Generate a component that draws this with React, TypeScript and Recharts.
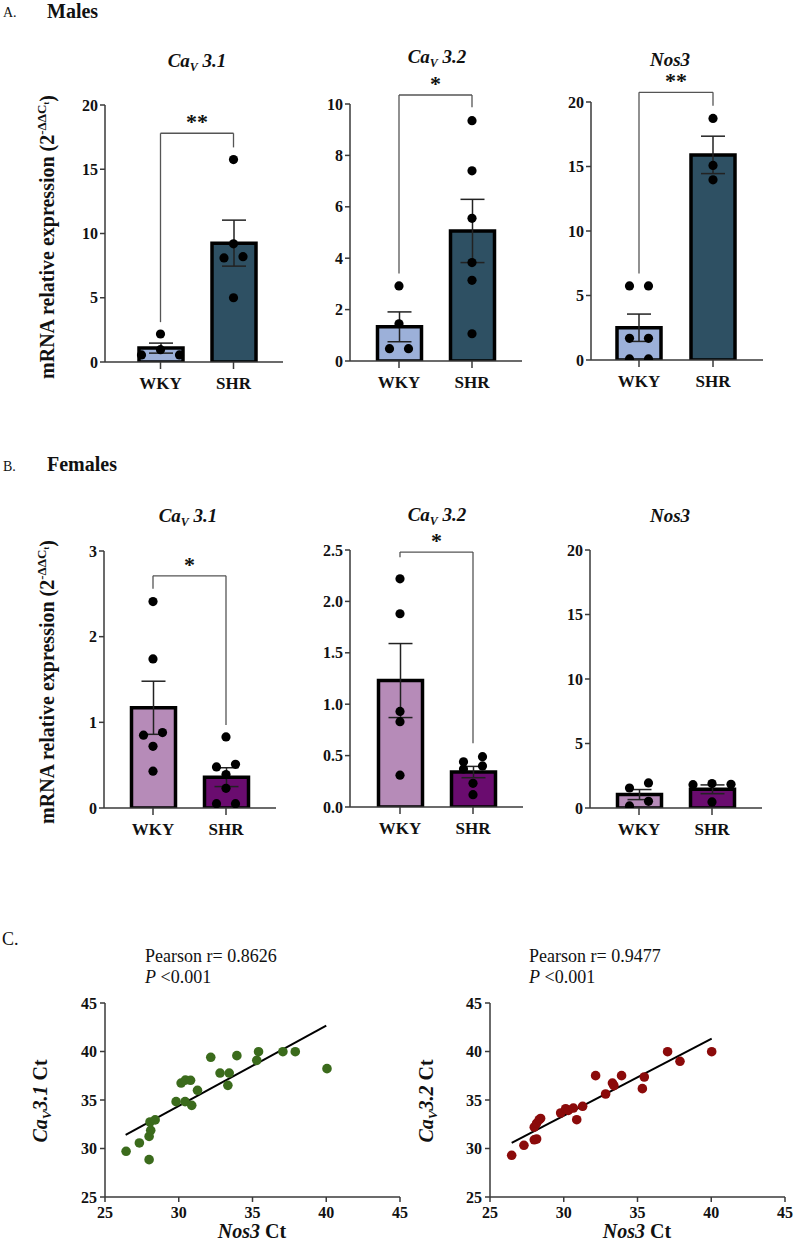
import {
  Bar,
  Cell,
  ComposedChart,
  ErrorBar,
  ReferenceLine,
  Scatter,
  ScatterChart,
  XAxis,
  YAxis,
} from 'recharts'

const FONT = '"Liberation Serif", "Times New Roman", serif'

const groups = ['WKY', 'SHR']

// A. males — mRNA relative expression (2^-ΔΔCt)
const maleCav31Wky = [2.18, 0.96, 0.55, 0.55]
const maleCav31Shr = [15.75, 9.2, 8.2, 8.1, 5.0]
const maleCav31Mean = [1.08, 9.25]
const maleCav31Sem = [0.39, 1.79]

const maleCav32Wky = [2.92, 1.45, 0.48, 0.48]
const maleCav32Shr = [9.35, 7.4, 5.55, 3.83, 3.14, 1.06]
const maleCav32Mean = [1.33, 5.06]
const maleCav32Sem = [0.58, 1.23]

const maleNos3Wky = [5.74, 5.74, 1.68, 1.68, 0.08, 0.08]
const maleNos3Shr = [18.73, 15.08, 13.97]
const maleNos3Mean = [2.5, 15.9]
const maleNos3Sem = [1.06, 1.45]

// B. females
const femaleCav31Wky = [2.41, 1.74, 0.88, 0.85, 0.72, 0.43]
const femaleCav31Shr = [0.83, 0.51, 0.48, 0.39, 0.23, 0.05, 0.05]
const femaleCav31Mean = [1.17, 0.36]
const femaleCav31Sem = [0.31, 0.11]

const femaleCav32Wky = [2.22, 1.88, 0.93, 0.83, 0.31]
const femaleCav32Shr = [0.49, 0.44, 0.4, 0.37, 0.23, 0.12]
const femaleCav32Mean = [1.23, 0.34]
const femaleCav32Sem = [0.36, 0.055]

const femaleNos3Wky = [1.94, 1.55, 0.52, 0.16]
const femaleNos3Shr = [1.89, 1.84, 1.81, 0.47]
const femaleNos3Mean = [1.04, 1.45]
const femaleNos3Sem = [0.39, 0.34]

// significance brackets: [left leg end, bracket height, right leg end]
const maleCav31Bracket = [3.1, 17.8, 16.7]
const maleCav32Bracket = [3.4, 10.35, 9.87]
const maleNos3Bracket = [6.7, 20.75, 19.7]
const femaleCav31Bracket = [2.56, 2.71, 0.97]
const femaleCav32Bracket = [2.43, 2.48, 0.62]

// C. Ct correlations (Nos3 Ct on x)
const nos3Ct1 = [26.43, 27.33, 27.99, 27.99, 28.1, 28.05, 28.4, 29.82, 30.16, 30.45, 30.8, 30.43, 30.88, 31.27, 32.17, 32.8, 33.42, 33.33, 33.94, 35.29, 35.41, 37.06, 37.9, 40.05]
const cav31Ct = [29.71, 30.57, 28.85, 31.25, 31.87, 32.73, 32.95, 34.83, 36.75, 37.05, 37.03, 34.83, 34.45, 36.0, 39.4, 37.78, 37.78, 36.51, 39.57, 39.09, 39.98, 39.98, 39.98, 38.23]
const cav31FitX = [26.4, 40.0]
const cav31FitY = [31.4, 42.66]

const nos3Ct2 = [26.47, 27.3, 28.0, 28.16, 28.0, 28.16, 28.34, 28.43, 29.79, 30.13, 30.31, 30.65, 30.88, 31.28, 32.16, 32.84, 33.3, 33.4, 33.92, 35.33, 35.46, 37.04, 37.88, 40.03]
const cav32Ct = [29.3, 30.33, 30.9, 30.98, 32.2, 32.6, 32.97, 33.1, 33.66, 34.1, 33.93, 34.17, 32.97, 34.35, 37.51, 35.62, 36.75, 36.48, 37.51, 36.17, 37.37, 39.98, 38.99, 39.98]
const cav32FitX = [26.47, 40.03]
const cav32FitY = [30.57, 41.32]

const ctTicks = [25, 30, 35, 40, 45]

const maleColors = ['#9cb0d9', '#2e5063']
const femaleColors = ['#b68bb8', '#6a0c6f']

const axisStyle = { stroke: '#3a3a3a', strokeWidth: 1.5 }
const tickFont = { fill: '#111', fontSize: 16, fontWeight: 700, fontFamily: FONT }

// spread dots that sit at nearly the same height into a centred row
const ROW_GAP = 8
const SPREAD = 19
function swarm(values: number[], pxPerUnit: number) {
  const order = values.map((_, i) => i).sort((a, b) => values[b] - values[a])
  const dx = values.map(() => 0)
  let row: number[] = []
  const flush = () => {
    const sorted = [...row].sort((a, b) => values[a] - values[b])
    // odd rows keep the highest dot in the middle
    if (sorted.length % 2 === 1 && sorted.length > 1) {
      const top = sorted.pop() as number
      sorted.splice((sorted.length) / 2, 0, top)
    }
    sorted.forEach((idx, k) => {
      dx[idx] = (k - (sorted.length - 1) / 2) * SPREAD
    })
    row = []
  }
  for (const i of order) {
    if (row.length && (values[row[0]] - values[i]) * pxPerUnit > ROW_GAP) flush()
    row.push(i)
  }
  if (row.length) flush()
  return dx
}

type Panel = {
  wky: number[]
  shr: number[]
  mean: number[]
  sem: number[]
  max: number
  ticks: number[]
  colors: string[]
  left: number
  top: number
  width: number
  height: number
  padL: number
  padR: number
  bracket?: number[]
  stars?: string
  fmt?: (v: number) => string
}

function BarPanel({ p }: { p: Panel }) {
  const bars = groups.map((name, i) => ({ name, mean: p.mean[i], sem: p.sem[i] }))
  const perUnit = p.height / p.max
  const pts = [p.wky, p.shr].flatMap((vals, g) => {
    const dx = swarm(vals, perUnit)
    return vals.map((v, i) => ({ name: groups[g], v, dx: dx[i] }))
  })
  const line = { stroke: '#555', strokeWidth: 1.3, ifOverflow: 'visible' as const }
  return (
    <div style={{ position: 'absolute', left: p.left - 60, top: p.top - 60 }}>
      <ComposedChart
        width={p.width + 70}
        height={p.height + 100}
        data={bars}
        margin={{ top: 60, right: 10, bottom: 0, left: 0 }}
      >
        <XAxis
          dataKey="name"
          allowDuplicatedCategory={false}
          padding={{ left: p.padL, right: p.padR }}
          axisLine={axisStyle}
          tickLine={axisStyle}
          tickSize={7}
          tickMargin={8}
          height={40}
          interval={0}
          tick={{ ...tickFont, fontSize: 17 }}
        />
        <YAxis
          type="number"
          domain={[0, p.max]}
          ticks={p.ticks}
          allowDataOverflow
          width={60}
          axisLine={axisStyle}
          tickLine={axisStyle}
          tickSize={5}
          tickMargin={2}
          interval={0}
          tick={tickFont}
          tickFormatter={p.fmt}
        />
        <Bar dataKey="mean" barSize={44} stroke="#000" strokeWidth={3.5} isAnimationActive={false}>
          {bars.map((b, i) => (
            <Cell key={b.name} fill={p.colors[i]} />
          ))}
          <ErrorBar dataKey="sem" width={12} stroke="#222" strokeWidth={1.5} />
        </Bar>
        <Scatter
          data={pts}
          dataKey="v"
          isAnimationActive={false}
          shape={(s: any) => <circle cx={s.cx + s.payload.dx} cy={s.cy} r={4.6} fill="#000" />}
        />
        {p.bracket && (
          <ReferenceLine
            segment={[
              { x: 'WKY', y: p.bracket[0] },
              { x: 'WKY', y: p.bracket[1] },
            ]}
            {...line}
          />
        )}
        {p.bracket && (
          <ReferenceLine
            segment={[
              { x: 'WKY', y: p.bracket[1] },
              { x: 'SHR', y: p.bracket[1] },
            ]}
            {...line}
            label={{
              value: p.stars,
              position: 'top',
              offset: 4,
              fill: '#111',
              fontSize: 22,
              fontWeight: 700,
              fontFamily: FONT,
            }}
          />
        )}
        {p.bracket && (
          <ReferenceLine
            segment={[
              { x: 'SHR', y: p.bracket[1] },
              { x: 'SHR', y: p.bracket[2] },
            ]}
            {...line}
          />
        )}
      </ComposedChart>
    </div>
  )
}

function CorrPanel({ xs, ys, fitX, fitY, color, left }: {
  xs: number[]
  ys: number[]
  fitX: number[]
  fitY: number[]
  color: string
  left: number
}) {
  const pts = xs.map((x, i) => ({ x, y: ys[i] }))
  const tick = { ...tickFont, fontSize: 16 }
  return (
    <div style={{ position: 'absolute', left: left - 60, top: 1003 - 20 }}>
      <ScatterChart width={295 + 70} height={194 + 60} margin={{ top: 20, right: 10, bottom: 0, left: 0 }}>
        <XAxis
          type="number"
          dataKey="x"
          domain={[25, 45]}
          ticks={ctTicks}
          interval={0}
          axisLine={axisStyle}
          tickLine={axisStyle}
          tickSize={5}
          tickMargin={5}
          height={40}
          tick={tick}
        />
        <YAxis
          type="number"
          dataKey="y"
          domain={[25, 45]}
          ticks={ctTicks}
          interval={0}
          width={60}
          axisLine={axisStyle}
          tickLine={axisStyle}
          tickSize={5}
          tickMargin={3}
          tick={tick}
        />
        <Scatter
          data={pts}
          fill={color}
          isAnimationActive={false}
          shape={(s: any) => <circle cx={s.cx} cy={s.cy} r={4.8} fill={color} />}
        />
        <ReferenceLine
          segment={[
            { x: fitX[0], y: fitY[0] },
            { x: fitX[1], y: fitY[1] },
          ]}
          stroke="#000"
          strokeWidth={2}
        />
      </ScatterChart>
    </div>
  )
}

const fmt1 = (v: number) => v.toFixed(1)

const panels: Panel[] = [
  { wky: maleCav31Wky, shr: maleCav31Shr, mean: maleCav31Mean, sem: maleCav31Sem, max: 20, ticks: [0, 5, 10, 15, 20], colors: maleColors, left: 105, top: 105, width: 178, height: 257, padL: 19, padR: 13, bracket: maleCav31Bracket, stars: '**' },
  { wky: maleCav32Wky, shr: maleCav32Shr, mean: maleCav32Mean, sem: maleCav32Sem, max: 10, ticks: [0, 2, 4, 6, 8, 10], colors: maleColors, left: 350, top: 104, width: 172, height: 257, padL: 12.5, padR: 13.5, bracket: maleCav32Bracket, stars: '*' },
  { wky: maleNos3Wky, shr: maleNos3Shr, mean: maleNos3Mean, sem: maleNos3Sem, max: 20, ticks: [0, 5, 10, 15, 20], colors: maleColors, left: 591, top: 102, width: 172, height: 258, padL: 11, padR: 13, bracket: maleNos3Bracket, stars: '**' },
  { wky: femaleCav31Wky, shr: femaleCav31Shr, mean: femaleCav31Mean, sem: femaleCav31Sem, max: 3, ticks: [0, 1, 2, 3], colors: femaleColors, left: 104, top: 551, width: 172, height: 257, padL: 12.5, padR: 13.5, bracket: femaleCav31Bracket, stars: '*' },
  { wky: femaleCav32Wky, shr: femaleCav32Shr, mean: femaleCav32Mean, sem: femaleCav32Sem, max: 2.5, ticks: [0, 0.5, 1, 1.5, 2, 2.5], colors: femaleColors, left: 350, top: 550, width: 173, height: 257, padL: 13.5, padR: 13.5, bracket: femaleCav32Bracket, stars: '*', fmt: fmt1 },
  { wky: femaleNos3Wky, shr: femaleNos3Shr, mean: femaleNos3Mean, sem: femaleNos3Sem, max: 20, ticks: [0, 5, 10, 15, 20], colors: femaleColors, left: 590, top: 550, width: 172, height: 258, padL: 12.5, padR: 13.5 },
]

function CavTitle({ x, y, num }: { x: number; y: number; num: string }) {
  return (
    <text x={x} y={y} textAnchor="middle" fontSize={19} fontWeight="bold" fontStyle="italic">
      Ca
      <tspan fontSize={12} dy={4}>V</tspan>
      <tspan dy={-4}> {num}</tspan>
    </text>
  )
}

function ExprLabel({ x, y }: { x: number; y: number }) {
  return (
    <text x={x} y={y} transform={`rotate(-90 ${x} ${y})`} textAnchor="middle" fontSize={20} fontWeight="bold">
      mRNA relative expression (2
      <tspan fontSize={13} dy={-8}>-ΔΔC</tspan>
      <tspan fontSize={9} dy={3}>t</tspan>
      <tspan fontSize={20} dy={5}>)</tspan>
    </text>
  )
}

function CtLabel({ x, y, num }: { x: number; y: number; num: string }) {
  return (
    <text x={x} y={y} transform={`rotate(-90 ${x} ${y})`} textAnchor="middle" fontSize={20} fontWeight="bold">
      <tspan fontStyle="italic">Ca</tspan>
      <tspan fontStyle="italic" fontSize={13} dy={4}>V</tspan>
      <tspan fontStyle="italic" dy={-4}>{num}</tspan>
      <tspan> Ct</tspan>
    </text>
  )
}

function Overlay() {
  return (
    <svg
      width={794}
      height={1243}
      fontFamily={FONT}
      fill="#111"
      style={{ position: 'absolute', left: 0, top: 0, pointerEvents: 'none' }}
    >
      <text x={3} y={17} fontSize={14}>A.</text>
      <text x={47} y={18} fontSize={20} fontWeight="bold">Males</text>
      <text x={3} y={471} fontSize={14}>B.</text>
      <text x={47} y={471} fontSize={20} fontWeight="bold">Females</text>
      <text x={2} y={945} fontSize={18}>C.</text>

      <CavTitle x={197} y={67} num="3.1" />
      <CavTitle x={437} y={63} num="3.2" />
      <text x={670} y={66} textAnchor="middle" fontSize={19} fontWeight="bold" fontStyle="italic">Nos3</text>
      <CavTitle x={188} y={522} num="3.1" />
      <CavTitle x={437} y={521} num="3.2" />
      <text x={670} y={522} textAnchor="middle" fontSize={19} fontWeight="bold" fontStyle="italic">Nos3</text>

      <ExprLabel x={54} y={237} />
      <ExprLabel x={54} y={682} />

      <text x={145} y={962} fontSize={18}>Pearson r= 0.8626</text>
      <text x={145} y={983} fontSize={18}>
        <tspan fontStyle="italic">P</tspan> &lt;0.001
      </text>
      <text x={529} y={962} fontSize={18}>Pearson r= 0.9477</text>
      <text x={529} y={983} fontSize={18}>
        <tspan fontStyle="italic">P</tspan> &lt;0.001
      </text>

      <CtLabel x={47} y={1101} num="3.1" />
      <CtLabel x={433} y={1101} num="3.2" />
      <text x={252} y={1238} textAnchor="middle" fontSize={20} fontWeight="bold">
        <tspan fontStyle="italic">Nos3</tspan> Ct
      </text>
      <text x={637} y={1238} textAnchor="middle" fontSize={20} fontWeight="bold">
        <tspan fontStyle="italic">Nos3</tspan> Ct
      </text>
    </svg>
  )
}

export default function App() {
  return (
    <div
      style={{
        position: 'absolute',
        left: 0,
        top: 0,
        width: 794,
        height: 1243,
        background: '#fff',
        fontFamily: FONT,
      }}
    >
      {panels.map((p, i) => (
        <BarPanel key={i} p={p} />
      ))}
      <CorrPanel xs={nos3Ct1} ys={cav31Ct} fitX={cav31FitX} fitY={cav31FitY} color="#3b6b1c" left={105} />
      <CorrPanel xs={nos3Ct2} ys={cav32Ct} fitX={cav32FitX} fitY={cav32FitY} color="#8b0a0a" left={490} />
      <Overlay />
    </div>
  )
}
